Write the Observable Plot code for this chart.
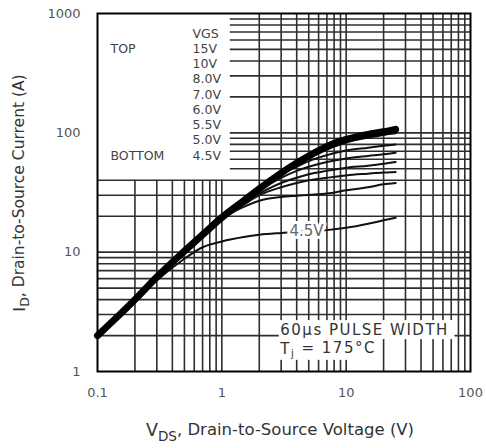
<!DOCTYPE html>
<html>
<head>
<meta charset="utf-8">
<script src="https://cdn.jsdelivr.net/npm/d3@7"></script>
<script src="https://cdn.jsdelivr.net/npm/@observablehq/plot@0.6"></script>
<style>
  body { margin: 0; background: #fff; }
  #chart { width: 486px; height: 448px; }
</style>
</head>
<body>
<div id="chart"></div>
<script>
// ---- data ----
const vgsLevels = ["15V", "10V", "8.0V", "7.0V", "6.0V", "5.5V", "5.0V", "4.5V"];
const vdsPoints = [0.1, 0.2, 0.3, 0.5, 0.7, 1, 1.5, 2, 3, 4, 5, 7, 10, 15, 20, 25];
const id15V  = [2.0, 4.0, 6.2, 10.2, 14, 19.5, 27, 34, 46, 56, 64, 77, 88, 97, 102, 107];
const id10V  = [2.0, 4.0, 6.2, 10.2, 14, 19.5, 27, 34, 46, 55, 62, 73, 84, 92, 97, 100];
const id8V   = [2.0, 4.0, 6.2, 10.2, 14, 19.5, 27, 34, 45, 52, 58, 65, 71, 75, 78, 80];
const id7V   = [2.0, 4.0, 6.2, 10.2, 14, 19.5, 27, 33, 42, 48, 52, 57, 61, 64, 66, 68];
const id6V   = [2.0, 4.0, 6.2, 10.2, 14, 19.5, 26, 31, 38, 42, 45, 48, 51, 53, 55, 57];
const id5V5  = [2.0, 4.0, 6.2, 10.1, 13.8, 19, 25, 30, 35, 38, 40, 42, 44, 45.5, 46.5, 47];
const id5V   = [2.0, 4.0, 6.1, 10, 13.5, 19, 24, 27, 29, 29.7, 30.2, 31, 33, 35, 37, 38];
const id4V5  = [2.0, 3.9, 5.8, 8.8, 11, 12.3, 13.4, 14, 14.5, 14.8, 15, 15.3, 16, 17.3, 18.5, 19.4];
const idSeries = [id15V, id10V, id8V, id7V, id6V, id5V5, id5V, id4V5];

const xTicks = [0.1, 1, 10, 100];
const yTicks = [1, 10, 100, 1000];
const gridX = [0.2, 0.3, 0.4, 0.5, 0.6, 0.7, 0.8, 0.9, 1, 2, 3, 4, 5, 6, 7, 8, 9, 10, 20, 30, 40, 50, 60, 70, 80, 90];
const gridY = [2, 3, 4, 5, 6, 7, 8, 9, 10, 20, 30, 40, 50, 60, 70, 80, 90, 100, 200, 300, 400, 500, 600, 700, 800, 900];
const gridSplitId = 40;     // below this current the grid spans the full width
const gridSplitVds = 1.17;  // above it, the grid starts at this voltage

const legendTitle = "VGS";
const legendTop = "TOP";
const legendBottom = "BOTTOM";
const curveLabel = {vds: 4.8, id: 15.1, text: "4.5V"};
const noteLines = [
  {vds: 2.95, id: 2.2, text: "60µs PULSE WIDTH"},
  {vds: 2.95, id: 1.53, text: "Tj = 175°C"}
];
const noteBoxes = [
  {x1: 2.9, x2: 75, y1: 1.85, y2: 2.67},
  {x1: 2.9, x2: 16.2, y1: 1.24, y2: 1.85}
];
const xTitle = ["V", "DS", ", Drain-to-Source Voltage (V)"];
const yTitle = ["I", "D", ", Drain-to-Source Current (A)"];

// ---- derived tables ----
const rows = vgsLevels.flatMap((v, i) => vdsPoints.map((x, j) => ({vgs: v, vds: x, id: idSeries[i][j]})));
const vLines = [
  ...gridX.map(x => ({x, y1: 1, y2: gridSplitId})),
  ...gridX.filter(x => x > gridSplitVds).map(x => ({x, y1: gridSplitId, y2: 1000}))
];
const hLines = [
  ...gridY.filter(y => y <= gridSplitId).map(y => ({y, x1: 0.1, x2: 100})),
  ...gridY.filter(y => y > gridSplitId).map(y => ({y, x1: gridSplitVds, x2: 100}))
];

const FONT = "DejaVu Sans, Verdana, sans-serif";
const gridStyle = {stroke: "#2e2e2e", strokeWidth: 1.6};
const legendFont = {fontSize: 12.5, fill: "#444", textAnchor: "start", lineAnchor: "middle"};

const legendMarks = [
  Plot.text([legendTitle], {frameAnchor: "top-left", dx: 95, dy: 20, text: d => d, ...legendFont}),
  ...vgsLevels.map((v, i) => Plot.text([v], {frameAnchor: "top-left", dx: 95, dy: 20 + (i + 1) * 15.25, text: d => d, ...legendFont})),
  Plot.text([legendTop], {frameAnchor: "top-left", dx: 13, dy: 35, text: d => d, ...legendFont}),
  Plot.text([legendBottom], {frameAnchor: "top-left", dx: 13, dy: 142, text: d => d, ...legendFont})
];

const chart = Plot.plot({
  width: 486,
  height: 448,
  marginLeft: 97,
  marginRight: 16,
  marginTop: 13,
  marginBottom: 77,
  x: {type: "log", domain: [0.1, 100]},
  y: {type: "log", domain: [1, 1000]},
  style: {fontFamily: FONT, background: "#fff"},
  marks: [
    Plot.ruleX(vLines, {x: "x", y1: "y1", y2: "y2", ...gridStyle}),
    Plot.ruleY(hLines, {y: "y", x1: "x1", x2: "x2", ...gridStyle}),
    Plot.rect(noteBoxes, {x1: "x1", x2: "x2", y1: "y1", y2: "y2", fill: "white"}),
    Plot.line(rows.filter(d => d.vgs !== "15V" && d.vgs !== "10V"), {x: "vds", y: "id", z: "vgs", stroke: "#111", strokeWidth: 2, curve: "monotone-x"}),
    Plot.line(rows.filter(d => d.vgs === "10V"), {x: "vds", y: "id", stroke: "#111", strokeWidth: 3, curve: "monotone-x"}),
    Plot.line(rows.filter(d => d.vgs === "15V"), {x: "vds", y: "id", stroke: "#000", strokeWidth: 7, curve: "monotone-x", strokeLinecap: "round"}),
    Plot.text([curveLabel], {x: "vds", y: "id", text: "text", fontSize: 15, fill: "#666", stroke: "white", strokeWidth: 6, textAnchor: "middle"}),
    Plot.text(noteLines, {x: "vds", y: "id", text: "text", fontSize: 15, fill: "#333", textAnchor: "start"}),
    Plot.frame({stroke: "#000", strokeWidth: 2}),
    ...legendMarks,
    Plot.axisX({ticks: xTicks, tickSize: 0, tickPadding: 16, tickFormat: d => String(d), fontSize: 13, fill: "#555", label: null}),
    Plot.axisY({ticks: yTicks, tickSize: 0, tickPadding: 17, tickFormat: d => String(d), fontSize: 13, fill: "#555", label: null})
  ]
});

document.getElementById("chart").appendChild(chart);

const svg = d3.select(chart);
// wider spacing for the note lines, and subscript in "Tj"
svg.selectAll("text").filter(function() { return this.textContent === "60µs PULSE WIDTH"; })
  .attr("letter-spacing", "1.5px");
svg.selectAll("text").filter(function() { return this.textContent === "Tj = 175°C"; }).each(function() {
  const t = d3.select(this);
  t.attr("letter-spacing", "1.5px");
  t.text(null);
  t.append("tspan").text("T");
  t.append("tspan").attr("dy", "0.3em").attr("font-size", "10px").text("j");
  t.append("tspan").attr("dy", "-0.3em").text(" = 175°C");
});

function addTitle(parts, transform, size) {
  const t = svg.append("text")
    .attr("transform", transform)
    .attr("text-anchor", "middle")
    .attr("font-family", FONT)
    .attr("font-size", size)
    .attr("fill", "#333");
  t.append("tspan").attr("font-size", size + 1).text(parts[0]);
  t.append("tspan").attr("dy", "0.35em").attr("font-size", size - 3).text(parts[1]);
  t.append("tspan").attr("dy", "-0.35em").text(parts[2]);
}
addTitle(xTitle, "translate(280,436)", 16.5);
addTitle(yTitle, "translate(25,193) rotate(-90)", 15.5);
</script>
</body>
</html>
